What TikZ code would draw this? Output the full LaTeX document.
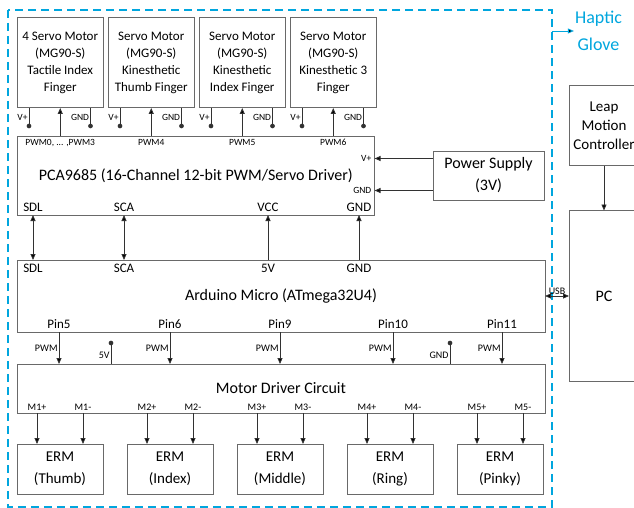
\documentclass[tikz,border=0pt]{standalone}
\usepackage{fontspec}
\setmainfont{Carlito}
\usetikzlibrary{arrows.meta, calc, positioning}
\definecolor{gloveblue}{RGB}{0,166,222}
\definecolor{linegray}{RGB}{50,50,50}
\definecolor{boxgray}{RGB}{105,105,105}
\tikzset{
>={Triangle[length=6pt,width=5pt]}, % small filled arrow heads
box/.style={draw=boxgray, line width=1pt, outer sep=0pt, inner sep=1pt, align=center},
servo/.style={box, minimum width=86.5pt, minimum height=90pt, font=\fontsize{13}{17}\selectfont},
erm/.style={box, minimum width=86pt, minimum height=50pt, font=\fontsize{15}{22}\selectfont},
wire/.style={draw=linegray, line width=0.9pt},
pinlbl/.style={inner sep=1pt, font=\fontsize{9.5}{10}\selectfont},
sigl/.style={inner sep=1pt, font=\fontsize{10}{11}\selectfont},
portlbl/.style={inner sep=1pt, font=\fontsize{13}{15}\selectfont},
pindot/.style={circle, draw=linegray, fill=linegray, inner sep=0pt, minimum size=4.2pt},
}

\begin{document}
\begin{tikzpicture}[x=1pt, y=-1pt]
  \useasboundingbox (0,0) rectangle (634,508);

  % Haptic glove frame ---------------------------------
  \draw[gloveblue, line width=1.3pt, dash pattern=on 8pt off 5pt] (8,10) rectangle (552,507);
  \coordinate (frameE) at (552,31);
  \node[text=gloveblue, align=center, inner sep=1pt, font=\fontsize{18}{27}\selectfont] (glove) at (598.5,31) {Haptic\\Glove};

  % Servo motors ---------------------------------------
  \node[servo, anchor=north west] (sv1) at (17,18) {4 Servo Motor\\(MG90-S)\\Tactile Index\\Finger};
  \node[servo, right=4.5pt of sv1] (sv2) {Servo Motor\\(MG90-S)\\Kinesthetic\\Thumb Finger};
  \node[servo, right=4.5pt of sv2] (sv3) {Servo Motor\\(MG90-S)\\Kinesthetic\\Index Finger};
  \node[servo, right=4.5pt of sv3] (sv4) {Servo Motor\\(MG90-S)\\Kinesthetic 3\\Finger};

  % Driver, micro controller, motor driver ------------
  \node[box, below right=28pt and 0pt of sv1.south west, minimum width=357.5pt, minimum height=79pt,
        font=\fontsize{16}{19}\selectfont] (pca) {PCA9685 (16-Channel 12-bit PWM/Servo Driver)};
  \node[box, below right=45pt and 0pt of pca.south west, minimum width=528pt, minimum height=72pt,
        font=\fontsize{16}{19}\selectfont] (ard) {Arduino Micro (ATmega32U4)};
  \node[box, below right=32pt and 0pt of ard.south west, minimum width=528pt, minimum height=49pt,
        font=\fontsize{16}{19}\selectfont] (mdc) {Motor Driver Circuit};

  % ERM actuators
  \node[erm, below right=31pt and 0pt of mdc.south west] (e1) {ERM\\(Thumb)};
  \node[erm, right=24pt of e1] (e2) {ERM\\(Index)};
  \node[erm, right=24pt of e2] (e3) {ERM\\(Middle)};
  \node[erm, right=24pt of e3] (e4) {ERM\\(Ring)};
  \node[erm, right=24pt of e4] (e5) {ERM\\(Pinky)};

  % Outside the glove
  \node[box, right=58.5pt of pca, minimum width=111pt, minimum height=49pt,
        font=\fontsize{16}{22}\selectfont] (ps) {Power Supply\\(3V)};
  \node[box, right=24pt of ard, minimum width=70pt, minimum height=171pt,
        font=\fontsize{16}{19}\selectfont] (pc) {PC};
  \node[box, above=45pt of pc, minimum width=70pt, minimum height=80pt,
        font=\fontsize{15}{19}\selectfont] (leap) {Leap\\Motion\\Controller};

  % Servo pins -----------------------------------------
  \node[pindot] (vp1) at ($(sv1.south west)+(12,18)$) {};
  \node[pindot] (gn1) at ($(sv1.south east)+(-13,18)$) {};
  \node[pindot] (vp2) at ($(sv2.south west)+(12,18)$) {};
  \node[pindot] (gn2) at ($(sv2.south east)+(-13,18)$) {};
  \node[pindot] (vp3) at ($(sv3.south west)+(12,18)$) {};
  \node[pindot] (gn3) at ($(sv3.south east)+(-13,18)$) {};
  \node[pindot] (vp4) at ($(sv4.south west)+(12,18)$) {};
  \node[pindot] (gn4) at ($(sv4.south east)+(-13,18)$) {};

  \node[pinlbl, below=2pt] (pw1) at (pca.north -| sv1) {PWM0, ... ,PWM3};
  \node[pinlbl, below=2pt] (pw2) at (pca.north -| sv2) {PWM4};
  \node[pinlbl, below=2pt] (pw3) at (pca.north -| sv3) {PWM5};
  \node[pinlbl, below=2pt] (pw4) at (pca.north -| sv4) {PWM6};

  % PCA9685 ports
  \node[pinlbl, anchor=east] (pVp) at ($(pca.east)+(-2,-17)$) {V+};
  \node[pinlbl, anchor=east] (pGnd) at ($(pca.east)+(-2,15)$) {GND};
  \node[portlbl, anchor=south] (pSDL) at ($(pca.south west)+(16,-2)$) {SDL};
  \node[portlbl, anchor=south] (pSCA) at ($(pca.south west)+(107,-2)$) {SCA};
  \node[portlbl, anchor=south] (pVCC) at ($(pca.south west)+(251,-2)$) {VCC};
  \node[portlbl, anchor=south] (pGND) at ($(pca.south west)+(342,-2)$) {GND};

  % Arduino ports
  \node[portlbl, anchor=north] (aSDL) at ($(ard.north west)+(16,3)$) {SDL};
  \node[portlbl, anchor=north] (aSCA) at ($(ard.north west)+(107,3)$) {SCA};
  \node[portlbl, anchor=north] (a5V) at ($(ard.north west)+(251,3)$) {5V};
  \node[portlbl, anchor=north] (aGND) at ($(ard.north west)+(342,3)$) {GND};
  \node[portlbl, anchor=south] (pin5) at ($(ard.south west)+(42,-2)$) {Pin5};
  \node[portlbl, anchor=south] (pin6) at ($(ard.south west)+(153,-2)$) {Pin6};
  \node[portlbl, anchor=south] (pin9) at ($(ard.south west)+(263,-2)$) {Pin9};
  \node[portlbl, anchor=south] (pin10) at ($(ard.south west)+(376,-2)$) {Pin10};
  \node[portlbl, anchor=south] (pin11) at ($(ard.south west)+(485,-2)$) {Pin11};

  % Motor driver supply pins
  \node[pindot] (md5V) at ($(mdc.north west)+(94,-21)$) {};
  \node[pindot] (mdGND) at ($(mdc.north west)+(433,-21)$) {};

  % Motor driver outputs
  \node[sigl, anchor=south] (m1p) at ($(e1.west |- mdc.south)+(20,-1)$) {M1+};
  \node[sigl, anchor=south] (m1n) at ($(e1.east |- mdc.south)+(-20,-1)$) {M1-};
  \node[sigl, anchor=south] (m2p) at ($(e2.west |- mdc.south)+(20,-1)$) {M2+};
  \node[sigl, anchor=south] (m2n) at ($(e2.east |- mdc.south)+(-20,-1)$) {M2-};
  \node[sigl, anchor=south] (m3p) at ($(e3.west |- mdc.south)+(20,-1)$) {M3+};
  \node[sigl, anchor=south] (m3n) at ($(e3.east |- mdc.south)+(-20,-1)$) {M3-};
  \node[sigl, anchor=south] (m4p) at ($(e4.west |- mdc.south)+(20,-1)$) {M4+};
  \node[sigl, anchor=south] (m4n) at ($(e4.east |- mdc.south)+(-20,-1)$) {M4-};
  \node[sigl, anchor=south] (m5p) at ($(e5.west |- mdc.south)+(20,-1)$) {M5+};
  \node[sigl, anchor=south] (m5n) at ($(e5.east |- mdc.south)+(-20,-1)$) {M5-};

  \path[wire]
  (vp1.center) edge node[pinlbl,left]{V+} (vp1 |- sv1.south)
  (gn1.center) edge node[pinlbl,left]{GND} (gn1 |- sv1.south)
  (vp2.center) edge node[pinlbl,left]{V+} (vp2 |- sv2.south)
  (gn2.center) edge node[pinlbl,left]{GND} (gn2 |- sv2.south)
  (vp3.center) edge node[pinlbl,left]{V+} (vp3 |- sv3.south)
  (gn3.center) edge node[pinlbl,left]{GND} (gn3 |- sv3.south)
  (vp4.center) edge node[pinlbl,left]{V+} (vp4 |- sv4.south)
  (gn4.center) edge node[pinlbl,left]{GND} (gn4 |- sv4.south)

  (pca.north -| sv1) edge[->] (sv1)
  (pca.north -| sv2) edge[->] (sv2)
  (pca.north -| sv3) edge[->] (sv3)
  (pca.north -| sv4) edge[->] (sv4)

  (ps.west |- pVp) edge[->] (pca.east |- pVp)
  (ps.west |- pGnd) edge[->] (pca.east |- pGnd)

  (pSDL |- pca.south) edge[<->] (aSDL |- ard.north)
  (pSCA |- pca.south) edge[<->] (aSCA |- ard.north)
  (a5V |- ard.north) edge[->] (pVCC |- pca.south)
  (aGND |- ard.north) edge[->] (pGND |- pca.south)

  (pin5 |- ard.south) edge[->] node[sigl,left]{PWM} (pin5 |- mdc.north)
  (pin6 |- ard.south) edge[->] node[sigl,left]{PWM} (pin6 |- mdc.north)
  (pin9 |- ard.south) edge[->] node[sigl,left]{PWM} (pin9 |- mdc.north)
  (pin10 |- ard.south) edge[->] node[sigl,left]{PWM} (pin10 |- mdc.north)
  (pin11 |- ard.south) edge[->] node[sigl,left]{PWM} (pin11 |- mdc.north)
  (md5V.center) edge node[sigl,left,pos=0.6]{5V} (md5V |- mdc.north)
  (mdGND.center) edge node[sigl,left,pos=0.6]{GND} (mdGND |- mdc.north)

  (m1p |- mdc.south) edge[->] (m1p |- e1.north)
  (m1n |- mdc.south) edge[->] (m1n |- e1.north)
  (m2p |- mdc.south) edge[->] (m2p |- e2.north)
  (m2n |- mdc.south) edge[->] (m2n |- e2.north)
  (m3p |- mdc.south) edge[->] (m3p |- e3.north)
  (m3n |- mdc.south) edge[->] (m3n |- e3.north)
  (m4p |- mdc.south) edge[->] (m4p |- e4.north)
  (m4n |- mdc.south) edge[->] (m4n |- e4.north)
  (m5p |- mdc.south) edge[->] (m5p |- e5.north)
  (m5n |- mdc.south) edge[->] (m5n |- e5.north)

  (ard.east) edge[<->] node[sigl,above]{USB} (ard.east -| pc.west)
  (leap) edge[->] (pc);

  \path[draw=gloveblue, line width=0.9pt] (frameE) edge[->] (glove.west);
\end{tikzpicture}
\end{document}
